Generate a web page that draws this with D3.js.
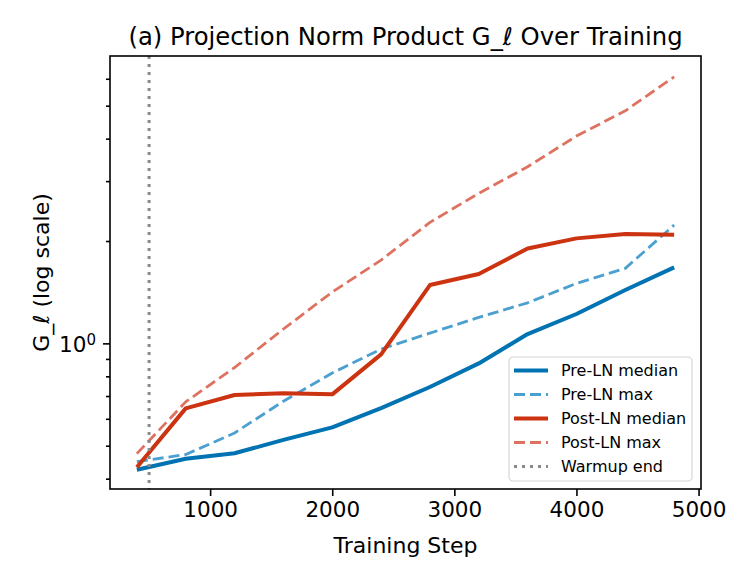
<!DOCTYPE html>
<html>
<head>
  <meta charset="utf-8">
  <title>Projection Norm Product</title>
  <script src="https://d3js.org/d3.v7.min.js"></script>
  <style>
    body { margin: 0; background: white; }
    svg text { font-family: "DejaVu Sans", sans-serif; fill: #000; }
  </style>
</head>
<body>
<div id="chart"></div>
<script>
"use strict"

// training steps where the norms were logged
var passos = [400, 800, 1200, 1600, 2000, 2400, 2800, 3200, 3600, 4000, 4400, 4800];

// values
var preMediana = [0.425, 0.458, 0.475, 0.520, 0.566, 0.645, 0.744, 0.873, 1.065, 1.22, 1.435, 1.673];
var preMax     = [0.449, 0.471, 0.545, 0.676, 0.818, 0.962, 1.072, 1.192, 1.316, 1.501, 1.662, 2.228];
var posMediana = [0.432, 0.644, 0.705, 0.713, 0.708, 0.928, 1.484, 1.599, 1.902, 2.036, 2.097, 2.087];
var posMax     = [0.474, 0.673, 0.849, 1.102, 1.415, 1.758, 2.269, 2.762, 3.306, 4.07, 4.83, 6.08];

var fimWarmup = 500;

var xTicks = [1000, 2000, 3000, 4000, 5000];
var yMajor = [1];
var yMinor = [0.4, 0.5, 0.6, 0.7, 0.8, 0.9, 2, 3, 4, 5, 6];

var series = [
  {nome: "Pre-LN median", valores: preMediana, cor: "#0173b2", largura: 4, tracejado: null},
  {nome: "Pre-LN max", valores: preMax, cor: "#4ca0d0", largura: 2.8, tracejado: "11,5"},
  {nome: "Post-LN median", valores: posMediana, cor: "#cc3311", largura: 4, tracejado: null},
  {nome: "Post-LN max", valores: posMax, cor: "#de7260", largura: 2.8, tracejado: "11,5"}
];

var larguraSVG = 747, alturaSVG = 579;
var margin = {top: 56, right: 46, bottom: 90, left: 110},
    larguraVis = larguraSVG - margin.left - margin.right,
    alturaVis = alturaSVG - margin.top - margin.bottom;

var svg = d3.select("#chart").append("svg")
  .attr("width", larguraSVG)
  .attr("height", alturaSVG);

var g = svg.append("g")
  .attr("transform", "translate(" + margin.left + "," + margin.top + ")");

var x = d3.scaleLinear().domain([180, 5020]).range([0, larguraVis]);
var y = d3.scaleLog().domain([0.373, 7.0]).range([alturaVis, 0]);

// lines
var linha = d3.line()
  .x((d, i) => x(passos[i]))
  .y(d => y(d));

series.forEach(function(s) {
  g.append("path")
    .datum(s.valores)
    .attr("d", linha)
    .attr("fill", "none")
    .attr("stroke", s.cor)
    .attr("stroke-width", s.largura)
    .attr("stroke-linejoin", "round")
    .attr("stroke-dasharray", s.tracejado);
});

g.append("line")
  .attr("x1", x(fimWarmup)).attr("x2", x(fimWarmup))
  .attr("y1", 0).attr("y2", alturaVis)
  .attr("stroke", "#8a8a8a")
  .attr("stroke-width", 3)
  .attr("stroke-dasharray", "3,5");

// axes
var eixoX = g.append("g")
  .attr("transform", "translate(0," + alturaVis + ")")
  .call(d3.axisBottom(x).tickValues(xTicks).tickSize(7).tickPadding(6).tickFormat(d3.format("d")));

var eixoYMenor = g.append("g")
  .call(d3.axisLeft(y).tickValues(yMinor).tickSize(4).tickFormat(""));

var eixoY = g.append("g")
  .call(d3.axisLeft(y).tickValues(yMajor).tickSize(7).tickPadding(7).tickFormat(""));

[eixoX, eixoY, eixoYMenor].forEach(function(e) {
  e.select(".domain").remove();
  e.selectAll("line").attr("stroke", "#000").attr("stroke-width", 1.6);
  e.selectAll("text").style("font-size", "21.5px").style("font-family", "DejaVu Sans");
});

var rotulo10 = eixoY.select(".tick text")
  .attr("x", -14).attr("dy", "0.38em").attr("text-anchor", "end");
rotulo10.append("tspan").text("10");
rotulo10.append("tspan").attr("dy", "-0.5em").style("font-size", "15px").text("0");

// frame
g.append("rect")
  .attr("width", larguraVis).attr("height", alturaVis)
  .attr("fill", "none").attr("stroke", "#000").attr("stroke-width", 1.6);

// labels
svg.append("text")
  .attr("x", margin.left + larguraVis / 2).attr("y", 45)
  .attr("text-anchor", "middle").style("font-size", "24.3px")
  .text("(a) Projection Norm Product G_ℓ Over Training");

svg.append("text")
  .attr("x", margin.left + larguraVis / 2).attr("y", 553)
  .attr("text-anchor", "middle").style("font-size", "22px")
  .text("Training Step");

svg.append("text")
  .attr("transform", "translate(49," + (margin.top + alturaVis / 2) + ") rotate(-90)")
  .attr("text-anchor", "middle").style("font-size", "22px")
  .text("G_ℓ (log scale)");

// legend
var itens = series.concat([{nome: "Warmup end", cor: "#8a8a8a", largura: 3, tracejado: "3,5"}]);
var legenda = svg.append("g").attr("transform", "translate(509,357)");
legenda.append("rect")
  .attr("width", 183).attr("height", 124).attr("rx", 4)
  .attr("fill", "white").attr("fill-opacity", 0.8)
  .attr("stroke", "#d6d6d6").attr("stroke-width", 1.2);

itens.forEach(function(s, i) {
  var yy = 13.5 + i * 24;
  legenda.append("line")
    .attr("x1", 5).attr("x2", 39).attr("y1", yy).attr("y2", yy)
    .attr("stroke", s.cor).attr("stroke-width", s.largura)
    .attr("stroke-dasharray", s.tracejado);
  legenda.append("text")
    .attr("x", 52).attr("y", yy).attr("dy", "0.36em")
    .style("font-size", "16px")
    .text(s.nome);
});
</script>
</body>
</html>
